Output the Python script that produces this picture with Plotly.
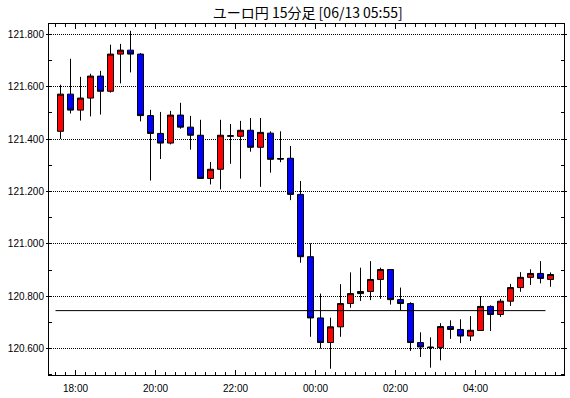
import plotly.graph_objects as go

title_text = "ユーロ円 15分足 [06/13 05:55]"

times = [
    "2023-06-12 17:30", "2023-06-12 17:45", "2023-06-12 18:00", "2023-06-12 18:15",
    "2023-06-12 18:30", "2023-06-12 18:45", "2023-06-12 19:00", "2023-06-12 19:15",
    "2023-06-12 19:30", "2023-06-12 19:45", "2023-06-12 20:00", "2023-06-12 20:15",
    "2023-06-12 20:30", "2023-06-12 20:45", "2023-06-12 21:00", "2023-06-12 21:15",
    "2023-06-12 21:30", "2023-06-12 21:45", "2023-06-12 22:00", "2023-06-12 22:15",
    "2023-06-12 22:30", "2023-06-12 22:45", "2023-06-12 23:00", "2023-06-12 23:15",
    "2023-06-12 23:30", "2023-06-12 23:45", "2023-06-13 00:00", "2023-06-13 00:15",
    "2023-06-13 00:30", "2023-06-13 00:45", "2023-06-13 01:00", "2023-06-13 01:15",
    "2023-06-13 01:30", "2023-06-13 01:45", "2023-06-13 02:00", "2023-06-13 02:15",
    "2023-06-13 02:30", "2023-06-13 02:45", "2023-06-13 03:00", "2023-06-13 03:15",
    "2023-06-13 03:30", "2023-06-13 03:45", "2023-06-13 04:00", "2023-06-13 04:15",
    "2023-06-13 04:30", "2023-06-13 04:45", "2023-06-13 05:00", "2023-06-13 05:15",
    "2023-06-13 05:30", "2023-06-13 05:45",
]

opens = [
    121.430, 121.572, 121.511, 121.557, 121.641, 121.583, 121.725, 121.740, 121.725, 121.490,
    121.422, 121.385, 121.492, 121.446, 121.415, 121.250, 121.285, 121.411, 121.411, 121.434,
    121.369, 121.423, 121.326, 121.327, 121.189, 120.951, 120.717, 120.623, 120.683, 120.772,
    120.810, 120.818, 120.864, 120.902, 120.787, 120.772, 120.623, 120.606, 120.604, 120.684,
    120.673, 120.648, 120.669, 120.761, 120.730, 120.781, 120.833, 120.872, 120.887, 120.864,
]
highs = [
    121.608, 121.707, 121.638, 121.650, 121.661, 121.761, 121.764, 121.814, 121.729, 121.512,
    121.504, 121.508, 121.539, 121.489, 121.474, 121.313, 121.474, 121.458, 121.470, 121.481,
    121.481, 121.430, 121.430, 121.374, 121.240, 121.002, 120.810, 120.718, 120.846, 120.891,
    120.909, 120.934, 120.909, 120.902, 120.833, 120.777, 120.662, 120.643, 120.697, 120.708,
    120.712, 120.724, 120.800, 120.765, 120.790, 120.847, 120.892, 120.903, 120.934, 120.891,
]
lows = [
    121.401, 121.498, 121.471, 121.487, 121.494, 121.578, 121.613, 121.655, 121.468, 121.242,
    121.324, 121.380, 121.440, 121.360, 121.248, 121.227, 121.208, 121.306, 121.249, 121.352,
    121.218, 121.272, 121.312, 121.167, 120.928, 120.645, 120.600, 120.523, 120.645, 120.756,
    120.782, 120.785, 120.790, 120.768, 120.746, 120.591, 120.568, 120.527, 120.555, 120.637,
    120.621, 120.629, 120.669, 120.667, 120.721, 120.763, 120.817, 120.843, 120.849, 120.836,
]
closes = [
    121.572, 121.511, 121.557, 121.641, 121.583, 121.725, 121.740, 121.725, 121.490, 121.422,
    121.385, 121.492, 121.446, 121.415, 121.250, 121.285, 121.415, 121.413, 121.434, 121.369,
    121.426, 121.323, 121.324, 121.189, 120.951, 120.717, 120.623, 120.683, 120.772, 120.810,
    120.818, 120.864, 120.902, 120.787, 120.772, 120.623, 120.606, 120.604, 120.684, 120.673,
    120.648, 120.670, 120.761, 120.730, 120.781, 120.833, 120.872, 120.887, 120.868, 120.883,
]

ref_level = 120.745
ref_times = [times[0], times[-1]]

x_range = ["2023-06-12 17:20:15", "2023-06-13 06:12:45"]
y_range = [120.499, 121.840]
x_tickvals = ["2023-06-12 18:00", "2023-06-12 20:00", "2023-06-12 22:00",
              "2023-06-13 00:00", "2023-06-13 02:00", "2023-06-13 04:00"]
x_ticktext = ["18:00", "20:00", "22:00", "00:00", "02:00", "04:00"]

fig = go.Figure()
fig.add_trace(go.Candlestick(
    x=times, open=opens, high=highs, low=lows, close=closes,
    xperiod=15 * 60 * 1000, xperiodalignment="middle",
    increasing=dict(fillcolor="#ff0000", line=dict(color="#000000", width=1)),
    decreasing=dict(fillcolor="#0000ff", line=dict(color="#000000", width=1)),
    whiskerwidth=0, hoverinfo="skip", showlegend=False,
))
fig.add_trace(go.Scatter(
    x=ref_times, y=[ref_level, ref_level], mode="lines",
    line=dict(color="#000000", width=1), hoverinfo="skip", showlegend=False,
))

tickfont = dict(family="Liberation Sans", size=10, color="#000000")

fig.update_layout(
    width=570, height=398,
    margin=dict(l=49, r=6, t=24, b=23),
    paper_bgcolor="#ffffff", plot_bgcolor="#ffffff",
    boxgap=0.4, boxgroupgap=0,
    title=dict(text=title_text, x=0.54, xanchor="center", y=0.968, yanchor="middle",
               font=dict(family="Noto Sans CJK JP", size=14, color="#000000")),
    showlegend=False,
    xaxis=dict(
        type="date", range=x_range, rangeslider=dict(visible=False),
        tickmode="array", tickvals=x_tickvals, ticktext=x_ticktext,
        ticks="inside", ticklen=5, tickcolor="#000000", tickwidth=1,
        minor=dict(dtick=15 * 60 * 1000, tick0="2023-06-12 18:00", ticks="inside",
                   ticklen=3, tickcolor="#000000", showgrid=False),
        showline=True, linecolor="#000000", linewidth=1, mirror="allticks",
        showgrid=False, zeroline=False, tickfont=tickfont, ticklabelstandoff=4,
        automargin=False,
    ),
    yaxis=dict(
        range=y_range, dtick=0.2, tick0=120.6, tickformat=".3f",
        ticks="outside", ticklen=2, tickcolor="#000000",
        minor=dict(dtick=0.1, tick0=120.6, ticks="inside", ticklen=3,
                   tickcolor="#000000", showgrid=False),
        showline=True, linecolor="#000000", linewidth=1, mirror="ticks",
        showgrid=True, gridcolor="#000000", gridwidth=1, griddash="1px,1px",
        zeroline=False, tickfont=tickfont, automargin=False,
    ),
)

fig.write_html("out.html")
